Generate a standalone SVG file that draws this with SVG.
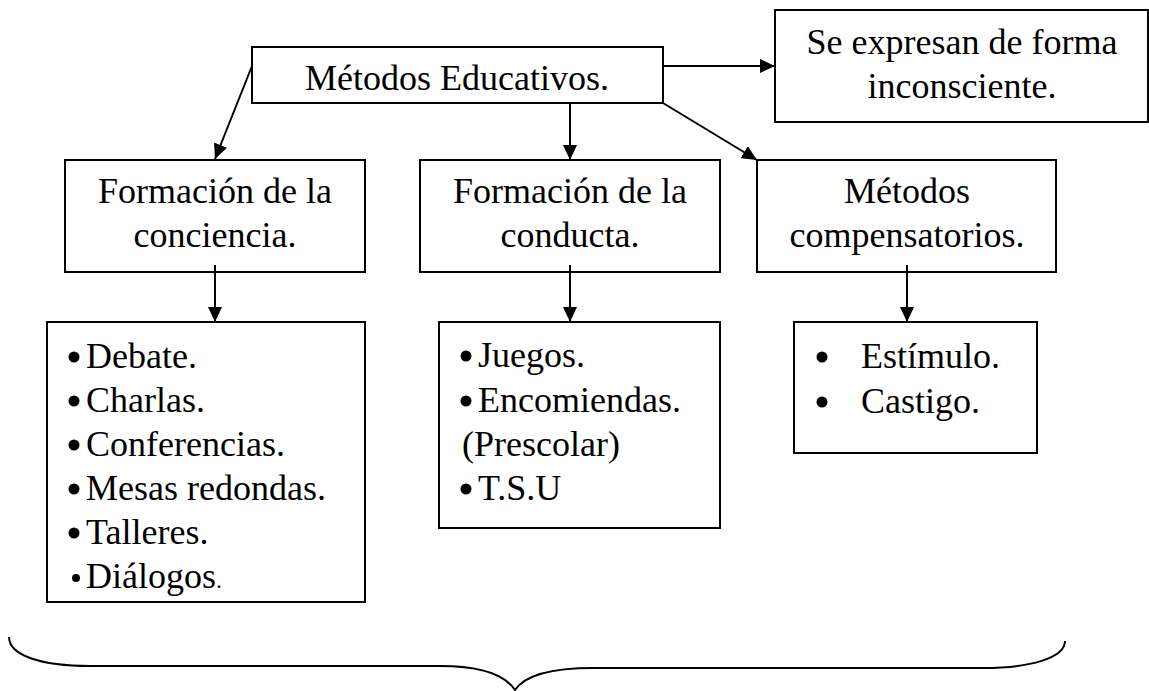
<svg xmlns="http://www.w3.org/2000/svg" width="1149" height="691" viewBox="0 0 1149 691">
<style>
  .box{fill:#fff;stroke:#000;stroke-width:2}
  text{font-family:"Liberation Serif","Times New Roman",serif;font-size:36px;fill:#000}
  .c{text-anchor:middle}
  .dot{fill:#000}
  .ln{stroke:#000;stroke-width:2;fill:none}
</style>
<defs>
  <marker id="ah" markerUnits="userSpaceOnUse" markerWidth="16" markerHeight="14" refX="15" refY="7" orient="auto">
    <path d="M0,0 L15,7 L0,14 z" fill="#000"/>
  </marker>
</defs>
<rect width="1149" height="691" fill="#fff"/>

<g id="n-metodos">
  <rect class="box" x="252" y="47" width="411" height="56"/>
  <text class="c" x="457" y="90">Métodos Educativos.</text>
</g>
<g id="n-inconsciente">
  <rect class="box" x="775" y="10" width="373" height="112"/>
  <text class="c" x="962" y="54">Se expresan de forma</text>
  <text class="c" x="962" y="98">inconsciente.</text>
</g>
<g id="n-conciencia">
  <rect class="box" x="65" y="160" width="300" height="112"/>
  <text class="c" x="215" y="203">Formación de la</text>
  <text class="c" x="215" y="247">conciencia.</text>
</g>
<g id="n-conducta">
  <rect class="box" x="420" y="160" width="300" height="112"/>
  <text class="c" x="570" y="203">Formación de la</text>
  <text class="c" x="570" y="247">conducta.</text>
</g>
<g id="n-compensatorios">
  <rect class="box" x="757" y="160" width="299" height="112"/>
  <text class="c" x="907" y="203">Métodos</text>
  <text class="c" x="907" y="247">compensatorios.</text>
</g>
<g id="n-lista-conciencia">
  <rect class="box" x="47" y="322" width="318" height="280"/>
  <circle class="dot" cx="74" cy="357" r="5.5"/><text x="86" y="368">Debate.</text>
  <circle class="dot" cx="74" cy="401" r="5.5"/><text x="86" y="412">Charlas.</text>
  <circle class="dot" cx="74" cy="445" r="5.5"/><text x="86" y="456">Conferencias.</text>
  <circle class="dot" cx="74" cy="489" r="5.5"/><text x="86" y="500">Mesas redondas.</text>
  <circle class="dot" cx="74" cy="533" r="5.5"/><text x="86" y="544">Talleres.</text>
  <circle class="dot" cx="76" cy="578" r="4"/><text x="86" y="588">Diálogos<tspan style="font-size:24px">.</tspan></text>
</g>
<g id="n-lista-conducta">
  <rect class="box" x="439" y="322" width="281" height="206"/>
  <circle class="dot" cx="466" cy="356" r="5.5"/><text x="478" y="367">Juegos.</text>
  <circle class="dot" cx="466" cy="401" r="5.5"/><text x="478" y="412">Encomiendas.</text>
  <text x="462" y="456">(Prescolar)</text>
  <circle class="dot" cx="466" cy="489" r="5.5"/><text x="478" y="500">T.S.U</text>
</g>
<g id="n-lista-compensatorios">
  <rect class="box" x="794" y="322" width="243" height="131"/>
  <circle class="dot" cx="822" cy="357" r="5.5"/><text x="861" y="368">Estímulo.</text>
  <circle class="dot" cx="822" cy="402" r="5.5"/><text x="861" y="413">Castigo.</text>
</g>

<g id="connectors">
  <line class="ln" x1="252" y1="66" x2="215" y2="159" marker-end="url(#ah)"/>
  <line class="ln" x1="570" y1="103" x2="570" y2="160" marker-end="url(#ah)"/>
  <line class="ln" x1="663" y1="103" x2="757" y2="160" marker-end="url(#ah)"/>
  <line class="ln" x1="663" y1="66" x2="775" y2="66" marker-end="url(#ah)"/>
  <line class="ln" x1="215" y1="265" x2="215" y2="322" marker-end="url(#ah)"/>
  <line class="ln" x1="570" y1="265" x2="570" y2="322" marker-end="url(#ah)"/>
  <line class="ln" x1="907" y1="265" x2="907" y2="322" marker-end="url(#ah)"/>
</g>

<g id="brace">
  <path class="ln" d="M9,637 C9,655 40,666 90,666 L440,666 C480,666 505,675 515,690 C525,675 550,668 593,668 L983,668 C1030,668 1065,658 1065,641"/>
</g>
</svg>
